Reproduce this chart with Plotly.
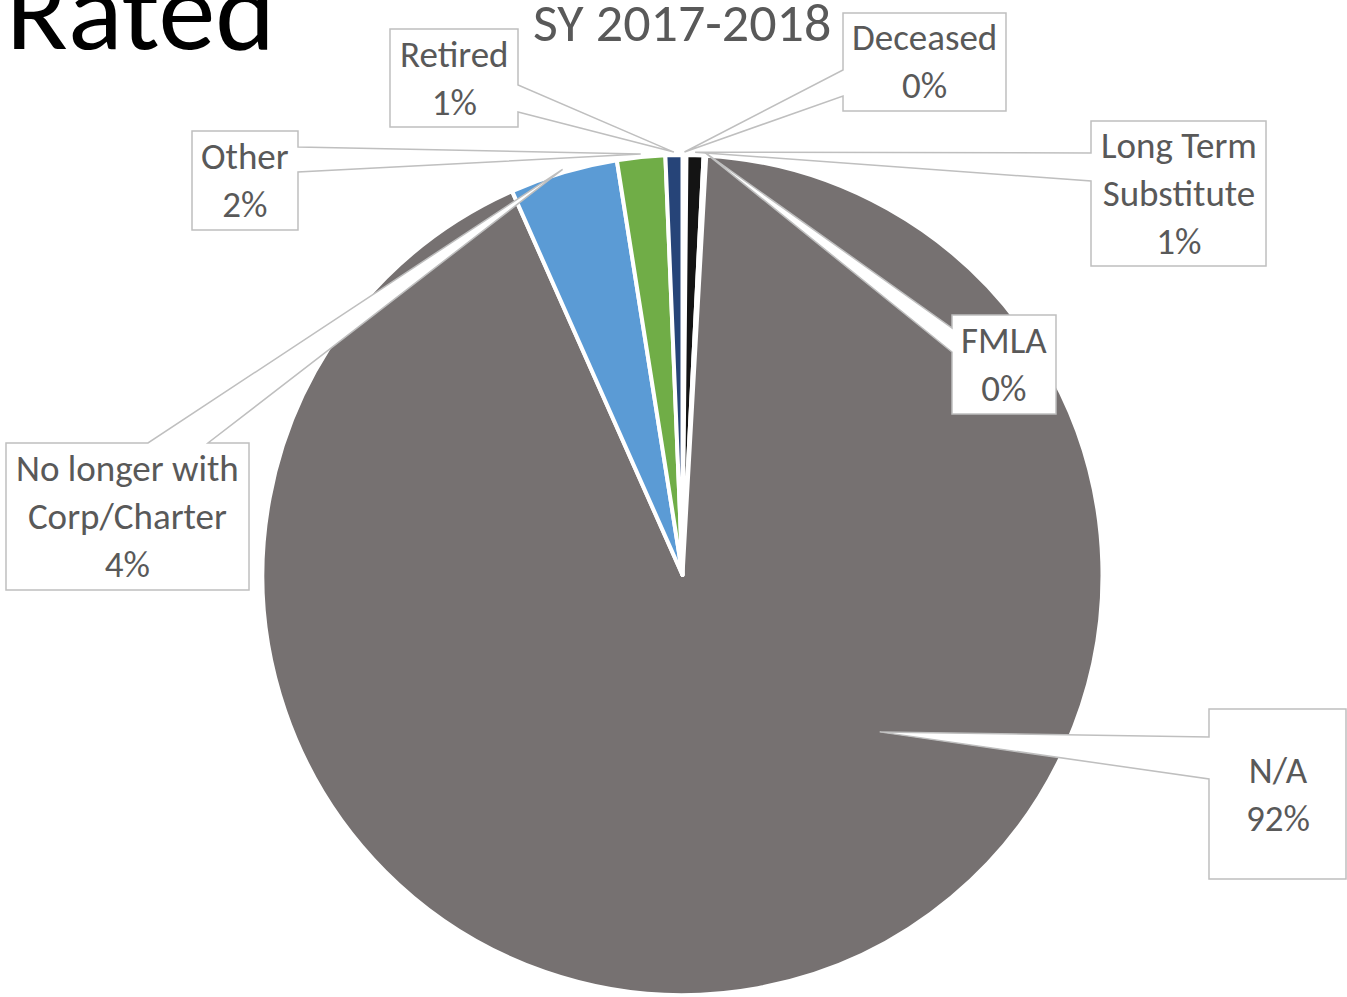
import math
import plotly.graph_objects as go

# ---- data ----
categories = ["Deceased", "Long Term Substitute", "FMLA", "N/A",
              "No longer with Corp/Charter", "Other", "Retired"]
values = [0.15, 0.65, 0.10, 92.45, 4.15, 1.85, 0.65]
display_labels = ["Deceased", "Long Term<br>Substitute", "FMLA", "N/A",
                  "No longer with<br>Corp/Charter", "Other", "Retired"]
colors = ["#A5A5A5", "#141414", "#ED7D31", "#767171",
          "#5B9BD5", "#70AD47", "#264478"]
title_text = "SY 2017-2018"
slide_text = "Rated"

# ---- layout geometry (pixels) ----
W, H = 1347, 997
CX, CY, R = 682.5, 575.0, 420.0

# callout boxes: (x0, y0, x1, y1), wedge side, wedge base (two coords along that side)
callouts = {
    "Deceased": ((843, 13, 1006, 111), "left", (70, 96)),
    "Long Term Substitute": ((1091, 121, 1266, 266), "left", (153, 181)),
    "FMLA": ((952, 315, 1056, 414), "left", (328, 352)),
    "N/A": ((1209, 709, 1346, 879), "left", (737, 779)),
    "No longer with Corp/Charter": ((6, 443, 249, 590), "top", (148, 208)),
    "Other": ((192, 131, 298, 230), "right", (147, 172)),
    "Retired": ((390, 29, 518, 127), "right", (85, 112)),
}
# leader tips placed inside the slice (angle deg clockwise from 12, fraction of radius)
inside_tips = {"N/A": (128.5, 0.6)}

FONT = "Carlito, Lato, sans-serif"


def px(x):
    return x / W


def py(y):
    return 1 - y / H


total = sum(values)
pcts = [v / total * 100 for v in values]

fig = go.Figure(go.Pie(
    labels=categories,
    values=values,
    sort=False,
    direction="clockwise",
    rotation=0,
    textinfo="none",
    hoverinfo="label+percent",
    marker=dict(colors=colors, line=dict(color="white", width=4)),
    domain=dict(x=[px(CX - R), px(CX + R)], y=[py(CY + R), py(CY - R)]),
    showlegend=False,
))

shapes = []
annotations = []
cum = 0.0
for cat, lab, v, p in zip(categories, display_labels, values, pcts):
    start = cum / total * 360
    cum += v
    end = cum / total * 360
    mid = (start + end) / 2
    if cat in inside_tips:
        ang, frac = inside_tips[cat]
        rr = R * frac
    else:
        ang, rr = mid, R + 3
    tx = CX + rr * math.sin(math.radians(ang))
    ty = CY - rr * math.cos(math.radians(ang))
    (x0, y0, x1, y1), side, (a, b) = callouts[cat]
    if side == "left":
        pts = [(x0, y0), (x1, y0), (x1, y1), (x0, y1), (x0, b), (tx, ty), (x0, a)]
    elif side == "right":
        pts = [(x0, y0), (x1, y0), (x1, a), (tx, ty), (x1, b), (x1, y1), (x0, y1)]
    else:  # top
        pts = [(x0, y0), (a, y0), (tx, ty), (b, y0), (x1, y0), (x1, y1), (x0, y1)]
    path = "M " + " L ".join(f"{px(x):.5f},{py(y):.5f}" for x, y in pts) + " Z"
    shapes.append(dict(type="path", path=path, xref="paper", yref="paper",
                       fillcolor="white", line=dict(color="#BFBFBF", width=1.5),
                       layer="above"))
    annotations.append(dict(
        x=px((x0 + x1) / 2), y=py((y0 + y1) / 2), xref="paper", yref="paper",
        xanchor="center", yanchor="middle", showarrow=False, align="center",
        text=f"{lab}<br>{round(p):.0f}%",
        font=dict(family=FONT, size=37, color="#595959"),
    ))

annotations.append(dict(
    x=px(682), y=py(23), xref="paper", yref="paper", xanchor="center",
    yanchor="middle", showarrow=False, text=title_text,
    font=dict(family=FONT, size=54, color="#595959"),
))
annotations.append(dict(
    x=px(4), y=py(10), xref="paper", yref="paper", xanchor="left",
    yanchor="middle", showarrow=False, text=slide_text,
    font=dict(family=FONT, size=114, color="#000000"),
))

fig.update_layout(
    width=W, height=H, autosize=False,
    margin=dict(l=0, r=0, t=0, b=0),
    paper_bgcolor="white", plot_bgcolor="white",
    shapes=shapes, annotations=annotations,
)

fig.write_html("out.html", config={"displayModeBar": False},
               post_script="document.body.style.margin='0';")
